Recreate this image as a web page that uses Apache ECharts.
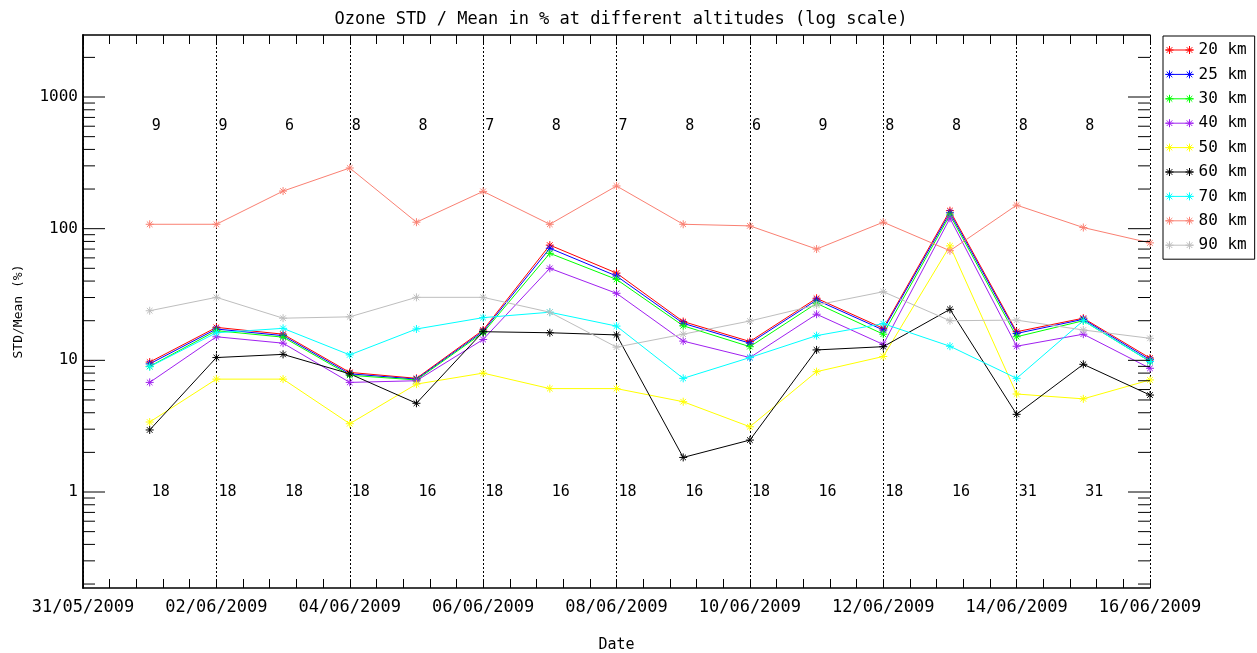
<!DOCTYPE html>
<html>
<head>
<meta charset="utf-8">
<script src="https://cdn.jsdelivr.net/npm/echarts@6/dist/echarts.min.js"></script>
<style>html,body{margin:0;padding:0;background:#fff;overflow:hidden}#c{width:1257px;height:653px}</style>
</head>
<body>
<div id="c"></div>
<script>
// ---- data ----
var dates = ['01/06/2009','02/06/2009','03/06/2009','04/06/2009','05/06/2009','06/06/2009','07/06/2009','08/06/2009',
             '09/06/2009','10/06/2009','11/06/2009','12/06/2009','13/06/2009','14/06/2009','15/06/2009','16/06/2009'];
var xTickLabels = ['31/05/2009','02/06/2009','04/06/2009','06/06/2009','08/06/2009','10/06/2009','12/06/2009','14/06/2009','16/06/2009'];
var seriesNames = ['20 km','25 km','30 km','40 km','50 km','60 km','70 km','80 km','90 km'];
var seriesColors = ['#ff0000','#0000ff','#00ff00','#a020f0','#ffff00','#000000','#00ffff','#fa8072','#bebebe'];
var km20 = [9.7, 17.8, 15.8, 8.1, 7.3, 17.0, 75, 46, 19.7, 13.9, 29.6, 17.5, 137, 16.5, 20.9, 10.4];
var km25 = [9.4, 17.3, 15.4, 7.9, 7.2, 16.6, 71, 43.7, 19.1, 13.5, 28.7, 17.0, 132, 16.0, 20.5, 10.1];
var km30 = [9.0, 16.8, 15.0, 7.7, 7.1, 16.2, 65, 41.2, 18.3, 12.7, 27.1, 15.8, 127, 15.1, 20.0, 9.8];
var km40 = [6.8, 15.1, 13.5, 6.8, 7.0, 14.4, 50, 32.3, 14.0, 10.5, 22.4, 13.2, 120, 12.8, 15.8, 8.7];
var km50 = [3.4, 7.2, 7.2, 3.3, 6.6, 8.0, 6.1, 6.1, 4.85, 3.13, 8.2, 10.7, 74, 5.55, 5.1, 7.1];
var km60 = [2.96, 10.5, 11.1, 7.9, 4.72, 16.5, 16.2, 15.6, 1.83, 2.48, 12.0, 12.7, 24.4, 3.89, 9.33, 5.45];
var km70 = [8.95, 16.2, 17.5, 11.0, 17.3, 21.1, 23.2, 18.2, 7.3, 10.5, 15.4, 19.0, 12.8, 7.3, 20.0, 9.8];
var km80 = [108, 108, 193, 289, 112, 192, 108, 211, 108, 105, 70, 112, 68, 151, 102, 78];
var km90 = [23.8, 30.1, 20.9, 21.4, 30.1, 30.1, 23.2, 12.6, 15.8, 19.9, 26.3, 33.2, 20.0, 20.2, 17.0, 14.7];
var topCounts = [9, 9, 6, 8, 8, 7, 8, 7, 8, 6, 9, 8, 8, 8, 8];
var bottomCounts = [18, 18, 18, 18, 16, 18, 16, 18, 16, 18, 16, 18, 16, 31, 31];
var topCountLevel = 600;
var bottomCountLevel = 1;
var yMajorTicks = [1, 10, 100, 1000];
var yMinorTicks = [0.2,0.3,0.4,0.5,0.6,0.7,0.8,0.9,2,3,4,5,6,7,8,9,20,30,40,50,60,70,80,90,200,300,400,500,600,700,800,900,2000];

// ---- helpers ----
var allSeries = [km20, km25, km30, km40, km50, km60, km70, km80, km90];
var startDate = Date.UTC(2009, 4, 31);
function dayOffset(s) {
  var p = s.split('/');
  return Math.round((Date.UTC(+p[2], +p[1] - 1, +p[0]) - startDate) / 86400000);
}
var xs = dates.map(dayOffset);
var FONT = 'DejaVu Sans Mono';
var starPath = 'path://M-4,0L4,0M0,-4L0,4M-2.8,-2.8L2.8,2.8M-2.8,2.8L2.8,-2.8';
var legendIcon = 'path://M0,4.5L28,4.5M0,4.5L8,4.5M4,0.5L4,8.5M1.2,1.7L6.8,7.3M1.2,7.3L6.8,1.7' +
                 'M20,4.5L28,4.5M24,0.5L24,8.5M21.2,1.7L26.8,7.3M21.2,7.3L26.8,1.7';

var series = allSeries.map(function (vals, i) {
  return {
    name: seriesNames[i], type: 'line',
    data: vals.map(function (v, j) { return [xs[j], v]; }),
    symbol: starPath, symbolSize: 8,
    itemStyle: { color: seriesColors[i], borderColor: seriesColors[i], borderWidth: 1 },
    lineStyle: { color: seriesColors[i], width: 1 },
    emphasis: { disabled: true }, z: 3
  };
});

function countSeries(counts, level) {
  return {
    type: 'scatter', silent: true, symbol: 'circle', symbolSize: 1,
    itemStyle: { color: 'rgba(0,0,0,0)' },
    data: counts.map(function (c, j) { return { value: [xs[j], level], c: c }; }),
    label: {
      show: true, position: 'inside', align: 'left', verticalAlign: 'middle', offset: [2, 0],
      formatter: function (p) { return String(p.data.c); },
      color: '#000', fontFamily: FONT, fontSize: 15,
      textBorderWidth: 0, textShadowBlur: 0, opacity: 1
    }, z: 4
  };
}
series.push(countSeries(topCounts, topCountLevel));
series.push(countSeries(bottomCounts, bottomCountLevel));

// log ticks (major + minor) on left and right frame, placed via the axis scale
var tickData = yMajorTicks.map(function (v) { return [0, v, 22]; })
  .concat(yMinorTicks.map(function (v) { return [0, v, 12]; }));
series.push({
  type: 'custom', silent: true, clip: false, z: 5,
  data: tickData,
  renderItem: function (params, api) {
    var v = api.value(1), len = api.value(2);
    var l = api.coord([0, v]);
    var r = api.coord([16, v]);
    var st = { stroke: '#000', lineWidth: 1 };
    return { type: 'group', children: [
      { type: 'line', shape: { x1: l[0], y1: l[1], x2: l[0] + len, y2: l[1] }, style: st },
      { type: 'line', shape: { x1: r[0], y1: r[1], x2: r[0] - len, y2: r[1] }, style: st }
    ]};
  }
});

var axisLineStyle = { color: '#000', width: 1.5 };
var xBase = {
  type: 'value', min: 0, max: 16, interval: 2,
  axisLine: { show: true, onZero: false, lineStyle: axisLineStyle },
  axisTick: { show: true, inside: true, length: 9, lineStyle: { color: '#000', width: 1 } },
  minorTick: { show: true, splitNumber: 5, length: 9, lineStyle: { color: '#000', width: 1 } }
};
function yLabel(v) { return String(+v.toPrecision(6)); }

var option = {
  animation: false,
  backgroundColor: '#fff',
  title: {
    text: 'Ozone STD / Mean in % at different altitudes (log scale)',
    left: 616, top: 6, textAlign: 'center',
    textStyle: { fontFamily: FONT, fontSize: 17, fontWeight: 'normal', color: '#000' }
  },
  legend: {
    orient: 'vertical', left: 1163, top: 36,
    data: seriesNames.map(function (n, i) {
      return { name: n, icon: legendIcon,
               itemStyle: { color: seriesColors[i], borderColor: seriesColors[i], borderWidth: 1 } };
    }),
    itemWidth: 28, itemHeight: 8, itemGap: 8.4,
    padding: [6, 8, 6, 2],
    borderColor: '#000', borderWidth: 1, backgroundColor: '#fff',
    selectedMode: false,
    textStyle: { fontFamily: FONT, fontSize: 16, color: '#000', lineHeight: 16 }
  },
  grid: { left: 83, right: 107, top: 35, bottom: 65, containLabel: false, outerBoundsMode: 'none' },
  xAxis: [
    Object.assign({}, xBase, {
      position: 'bottom',
      name: 'Date', nameLocation: 'middle', nameGap: 50,
      nameTextStyle: { fontFamily: FONT, fontSize: 15, color: '#000' },
      axisLabel: {
        show: true, margin: 11, color: '#000', fontFamily: FONT, fontSize: 17,
        formatter: function (v) { return xTickLabels[Math.round(v / 2)]; }
      },
      splitLine: { show: true, lineStyle: { color: '#000', width: 1, type: [2, 2] } }
    }),
    Object.assign({}, xBase, {
      position: 'top', axisLabel: { show: false }, splitLine: { show: false }
    })
  ],
  yAxis: [
    {
      type: 'log', logBase: 10, min: 0.1866, max: 2958, position: 'left',
      name: 'STD/Mean (%)', nameLocation: 'middle', nameGap: 58, nameRotate: 90,
      nameTextStyle: { fontFamily: FONT, fontSize: 13, color: '#000' },
      axisLine: { show: true, lineStyle: axisLineStyle },
      axisTick: { show: false },
      axisLabel: { show: true, margin: 5, color: '#000', fontFamily: FONT, fontSize: 16,
                   showMinLabel: false, showMaxLabel: false, formatter: yLabel },
      splitLine: { show: false }
    },
    {
      type: 'log', logBase: 10, min: 0.1866, max: 2958, position: 'right',
      axisLine: { show: true, lineStyle: axisLineStyle },
      axisTick: { show: false },
      axisLabel: { show: false },
      splitLine: { show: false }
    }
  ],
  series: series
};

var chart = echarts.init(document.getElementById('c'), null, { renderer: 'canvas' });
chart.setOption(option);
</script>
</body>
</html>
